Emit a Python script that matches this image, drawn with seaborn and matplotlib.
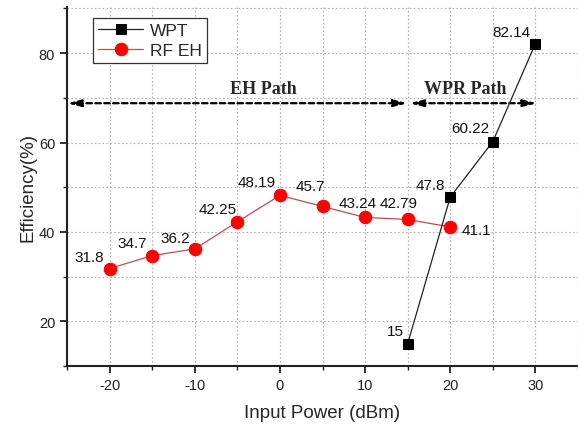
import matplotlib
matplotlib.use("Agg")
import matplotlib.pyplot as plt
import seaborn as sns
import pandas as pd
from matplotlib.ticker import MultipleLocator

# Data
wpt_power = [15, 20, 25, 30]
wpt_eff = [15, 47.8, 60.22, 82.14]
wpt_labels = ["15", "47.8", "60.22", "82.14"]
rf_power = [-20, -15, -10, -5, 0, 5, 10, 15, 20]
rf_eff = [31.8, 34.7, 36.2, 42.25, 48.19, 45.7, 43.24, 42.79, 41.1]
rf_labels = ["31.8", "34.7", "36.2", "42.25", "48.19", "45.7", "43.24", "42.79", "41.1"]
x_ticks = [-20, -10, 0, 10, 20, 30]
y_ticks = [20, 40, 60, 80]

# label offsets in pixels (dx, dy)
wpt_off = [(-12, 13), (-20, 12), (-23, 14), (-24, 12)]
rf_off = [(-20, 12), (-20, 13), (-20, 11), (-20, 13), (-23, 13), (-12, 20), (-7, 14), (-9, 16), (26, -3)]

sns.set_style("ticks")
plt.rcParams['font.family'] = ['Liberation Sans', 'DejaVu Sans']
plt.rcParams['axes.unicode_minus'] = False

fig = plt.figure(figsize=(5.78, 4.27), dpi=100)
ax = fig.add_axes([0.116, 0.1405, 0.884, 0.8405])

df_w = pd.DataFrame({"p": wpt_power, "e": wpt_eff})
df_r = pd.DataFrame({"p": rf_power, "e": rf_eff})

sns.lineplot(data=df_w, x="p", y="e", ax=ax, color="#222222", lw=0.9,
             marker="s", markersize=7, markerfacecolor="black", markeredgecolor="black",
             label="WPT", zorder=4)
sns.lineplot(data=df_r, x="p", y="e", ax=ax, color="#b85050", lw=0.9,
             marker="o", markersize=9, markerfacecolor="red", markeredgecolor="red",
             label="RF EH", zorder=3)

for x, y, t, (dx, dy) in zip(wpt_power, wpt_eff, wpt_labels, wpt_off):
    ax.annotate(t, (x, y), xytext=(dx, dy), textcoords="offset pixels",
                ha="center", va="center", fontsize=11, color="#111111")
for x, y, t, (dx, dy) in zip(rf_power, rf_eff, rf_labels, rf_off):
    ax.annotate(t, (x, y), xytext=(dx, dy), textcoords="offset pixels",
                ha="center", va="center", fontsize=11, color="#111111")

ax.set_xlim(-25, 35)
ax.set_ylim(10, 90.3)
ax.set_xticks(x_ticks)
ax.set_yticks(y_ticks)
ax.xaxis.set_minor_locator(MultipleLocator(5))
ax.yaxis.set_minor_locator(MultipleLocator(10))
ax.grid(True, which="both", color="#b0b0b0", linestyle=(0, (1.5, 2)), lw=0.8)
ax.tick_params(which="major", direction="out", length=5, width=1.3, labelsize=10.5, colors="#222222")
ax.tick_params(which="minor", direction="out", length=3, width=1.0, colors="#222222")
for s in ["top", "right"]:
    ax.spines[s].set_visible(False)
for s in ["left", "bottom"]:
    ax.spines[s].set_linewidth(1.5)
    ax.spines[s].set_color("#222222")

ax.set_xlabel("Input Power (dBm)", fontsize=13.5, labelpad=9)
ax.set_ylabel("Efficiency(%)", fontsize=13.5, labelpad=2)

# path arrows
arrow_y = 68.8
ap = dict(arrowstyle="<|-|>,head_length=0.8,head_width=0.2", linestyle=(0, (2.5, 1.5)),
          lw=1.6, color="black", shrinkA=0, shrinkB=0)
ax.annotate("", xy=(-25, arrow_y), xytext=(15, arrow_y), arrowprops=ap)
ax.annotate("", xy=(15.2, arrow_y), xytext=(30.2, arrow_y), arrowprops=ap)
ax.text(-2, 72.2, "EH Path", fontsize=13, fontweight="bold",
        family=["Liberation Serif"], ha="center", va="center")
ax.text(21.8, 72.2, "WPR Path", fontsize=13, fontweight="bold",
        family=["Liberation Serif"], ha="center", va="center")

leg = ax.legend(loc="upper left", bbox_to_anchor=(0.034, 0.994), fontsize=12.5,
                fancybox=False, framealpha=1, edgecolor="#333333",
                handlelength=2.6, borderpad=0.3, labelspacing=0.25, handletextpad=0.4)
leg.get_frame().set_linewidth(0.9)

fig.savefig("out.png", dpi=100)
